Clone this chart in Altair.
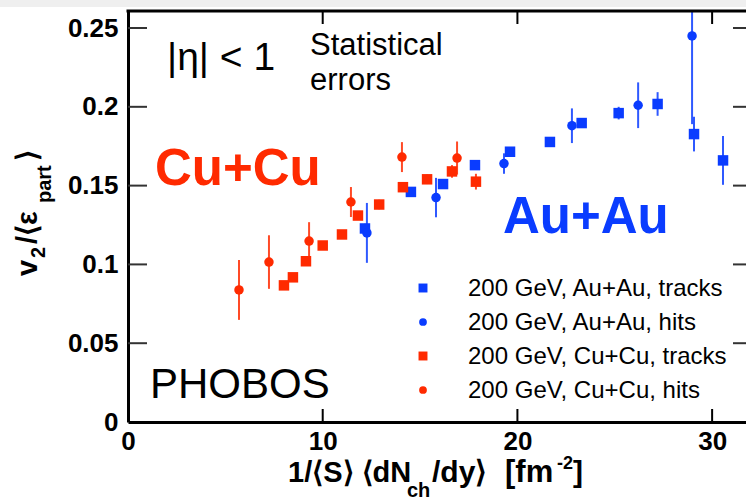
import altair as alt
import pandas as pd

# ---- measurements: 1/<S> dN/dy (x), v2/<eps_part> (y), statistical error ----
au_tracks_x = [12.17, 14.53, 16.18, 17.82, 19.62, 21.67, 23.3, 25.2, 27.2, 29.07, 30.56]
au_tracks_y = [0.1228, 0.146, 0.151, 0.163, 0.1715, 0.1777, 0.1897, 0.196, 0.2018, 0.1827, 0.166]
au_tracks_err = [0.003, 0.002, 0.002, 0.002, 0.002, 0.002, 0.003, 0.004, 0.0075, 0.011, 0.0155]

au_hits_x = [12.27, 15.82, 19.31, 22.8, 26.2, 28.97]
au_hits_y = [0.120, 0.1424, 0.164, 0.188, 0.201, 0.245]
au_hits_err = [0.019, 0.0125, 0.0065, 0.011, 0.0145, 0.056]

cu_tracks_x = [8.01, 8.47, 9.14, 10.0, 10.99, 11.81, 12.9, 14.12, 15.36, 16.64, 17.87]
cu_tracks_y = [0.0867, 0.0918, 0.102, 0.112, 0.119, 0.131, 0.138, 0.149, 0.154, 0.159, 0.1525]
cu_tracks_err = [0.002, 0.002, 0.002, 0.002, 0.002, 0.002, 0.003, 0.003, 0.003, 0.004, 0.005]

cu_hits_x = [5.70, 7.24, 9.30, 11.45, 14.07, 16.90]
cu_hits_y = [0.0838, 0.1015, 0.1148, 0.1396, 0.1681, 0.1675]
cu_hits_err = [0.019, 0.017, 0.012, 0.0095, 0.0095, 0.0105]

legend_labels = [
    "200 GeV, Au+Au, tracks",
    "200 GeV, Au+Au, hits",
    "200 GeV, Cu+Cu, tracks",
    "200 GeV, Cu+Cu, hits",
]

x_ticks = [0, 10, 20, 30]
y_ticks = [0, 0.05, 0.1, 0.15, 0.2, 0.25]

RED = "#ff2a00"
BLUE = "#0a3cff"
FONT = "Liberation Sans"

W, H = 618, 411
x_scale = alt.Scale(domain=[0, 31.74], nice=False, zero=False)
y_scale = alt.Scale(domain=[0, 0.2608], nice=False, zero=False)


def series(xs, ys, errs, system, method):
    return pd.DataFrame({
        "x": xs, "y": ys,
        "lo": [v - e for v, e in zip(ys, errs)],
        "hi": [v + e for v, e in zip(ys, errs)],
        "system": system, "method": method,
    })


data = pd.concat([
    series(au_tracks_x, au_tracks_y, au_tracks_err, "Au+Au", "tracks"),
    series(au_hits_x, au_hits_y, au_hits_err, "Au+Au", "hits"),
    series(cu_tracks_x, cu_tracks_y, cu_tracks_err, "Cu+Cu", "tracks"),
    series(cu_hits_x, cu_hits_y, cu_hits_err, "Cu+Cu", "hits"),
], ignore_index=True)

color = alt.Color("system:N", scale=alt.Scale(domain=["Au+Au", "Cu+Cu"], range=[BLUE, RED]), legend=None)

x_axis = alt.Axis(values=x_ticks, format="d", title=None, grid=False, ticks=False, tickSize=0,
                  labelFont=FONT, labelFontSize=26, labelFontWeight="bold", labelColor="black",
                  labelPadding=6, labelFlush=False, labelOverlap=False,
                  domainColor="black", domainWidth=3)
y_axis = alt.Axis(values=y_ticks, format="~g", title=None, grid=False, ticks=False, tickSize=0,
                  labelFont=FONT, labelFontSize=26, labelFontWeight="bold", labelColor="black",
                  labelPadding=10, labelFlush=False, labelOverlap=False,
                  domainColor="black", domainWidth=3)


def X(field):
    return alt.X(field, scale=x_scale, axis=x_axis)


def Y(field):
    return alt.Y(field, scale=y_scale, axis=y_axis)


base = alt.Chart(data)

errbars = base.mark_rule(strokeWidth=2, clip=True, opacity=0.85).encode(
    x=X("x:Q"), y=Y("lo:Q"), y2="hi:Q", color=color,
)

squares = base.transform_filter(alt.datum.method == "tracks").mark_point(
    shape="square", filled=True, size=110, opacity=1
).encode(x=X("x:Q"), y=Y("y:Q"), color=color)

circles = base.transform_filter(alt.datum.method == "hits").mark_circle(
    size=90, opacity=1
).encode(x=X("x:Q"), y=Y("y:Q"), color=color)

# inward tick marks on all four sides of the frame
yt = alt.Chart(pd.DataFrame({"v": y_ticks[1:]}))
xt = alt.Chart(pd.DataFrame({"v": x_ticks[1:]}))
left_ticks = yt.mark_rule(color="#333333", strokeWidth=2).encode(
    y=Y("v:Q"), x=alt.value(0), x2=alt.value(19))
right_ticks = yt.mark_rule(color="#333333", strokeWidth=2).encode(
    y=Y("v:Q"), x=alt.value(W - 13), x2=alt.value(W))
top_ticks = xt.mark_rule(color="black", strokeWidth=2).encode(
    x=X("v:Q"), y=alt.value(0), y2=alt.value(13))
bottom_ticks = xt.mark_rule(color="black", strokeWidth=2).encode(
    x=X("v:Q"), y=alt.value(H - 13), y2=alt.value(H))
top_frame = alt.Chart(pd.DataFrame({"k": [0]})).mark_rule(color="black", strokeWidth=3).encode(
    x=alt.value(-1.5), x2=alt.value(W), y=alt.value(0))
band = alt.Chart(pd.DataFrame({"k": [0]})).mark_rect(color="#efefef").encode(
    x=alt.value(-128), x2=alt.value(W), y=alt.value(-11), y2=alt.value(-4))


def label(text, x, y, size, weight="normal", color="black", angle=0, align="left"):
    return alt.Chart(pd.DataFrame({"t": [text]})).mark_text(
        x=x, y=y, fontSize=size, fontWeight=weight, color=color, angle=angle,
        align=align, baseline="alphabetic", font=FONT,
    ).encode(text="t:N")


texts = [
    label("|η| < 1", 39, 59, 39),
    label("Statistical", 182, 44, 31),
    label("errors", 182, 79, 31),
    label("Cu+Cu", 27, 174, 51, "bold", RED),
    label("Au+Au", 375, 222, 51, "bold", BLUE),
    label("PHOBOS", 22, 387, 42),
    # x-axis title with sub/superscripts
    label("1/⟨S⟩ ⟨dN", 160, 471, 29, "bold"),
    label("ch", 279, 486, 20, "bold"),
    label("/dy⟩", 304, 471, 30, "bold"),
    label("[fm", 377, 471, 31, "bold"),
    label("-2", 429, 458, 18, "bold"),
    label("]", 445, 471, 30, "bold"),
    # y-axis title, rotated
    label("v", -91, 265, 29, "bold", angle=270),
    label("2", -83, 247, 20, "bold", angle=270),
    label("/⟨ε", -91, 233, 29, "bold", angle=270),
    label("part", -77, 192, 20, "bold", angle=270),
    label("⟩", -91, 150, 29, "bold", angle=270),
]

# legend block
legend_colors = [BLUE, BLUE, RED, RED]
legend_shapes = ["square", "circle", "square", "circle"]
legend_layers = []
for i, (lab, col, shp) in enumerate(zip(legend_labels, legend_colors, legend_shapes)):
    cy = 277 + 34 * i
    legend_layers.append(
        alt.Chart(pd.DataFrame({"k": [0]})).mark_point(
            shape=shp, filled=True, size=80 if shp == "square" else 60, color=col, opacity=1,
            x=295, y=cy,
        ).encode(opacity=alt.value(1))
    )
    legend_layers.append(label(lab, 340, cy + 8, 24))

chart = alt.layer(
    band, errbars, squares, circles,
    left_ticks, right_ticks, top_ticks, bottom_ticks, top_frame,
    *texts, *legend_layers,
).properties(
    width=W, height=H,
    padding={"left": 128, "top": 11, "right": 0, "bottom": 79},
    autosize=alt.AutoSizeParams(type="none"),
    background="white",
).configure_view(stroke=None)

chart.save("out.html", embed_options={"renderer": "svg", "actions": False})
